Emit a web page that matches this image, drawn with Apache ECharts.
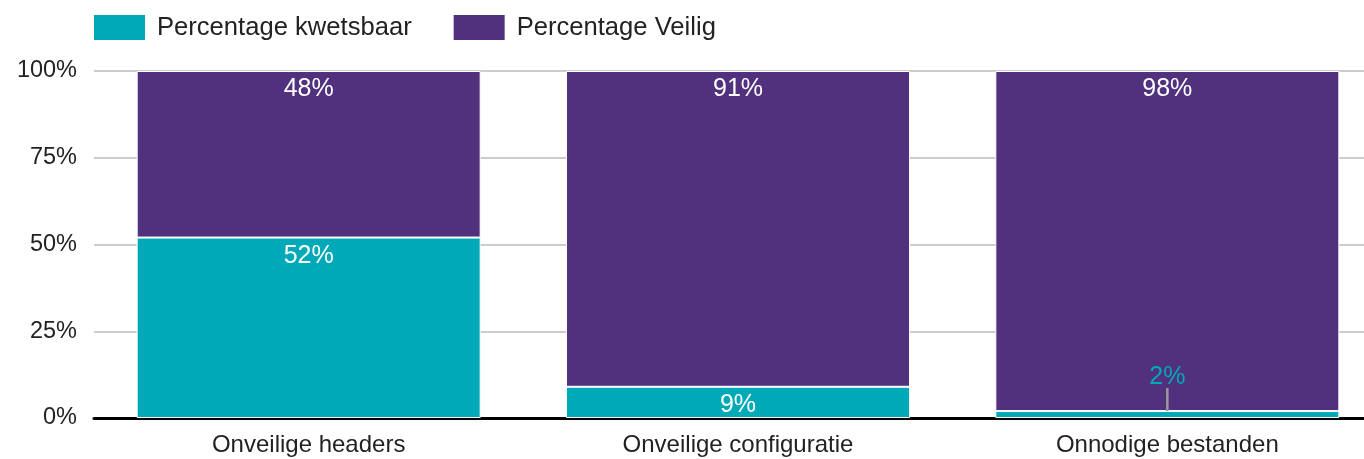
<!DOCTYPE html>
<html><head><meta charset="utf-8">
<script src="https://cdn.jsdelivr.net/npm/echarts@6/dist/echarts.min.js"></script>
<style>html,body{margin:0;padding:0;background:#fff;overflow:hidden}#c{width:1382px;height:459px}</style>
</head><body><div id="c"></div>
<script>
const categories = ['Onveilige headers', 'Onveilige configuratie', 'Onnodige bestanden'];
const kwetsbaar = [52, 9, 2];
const veilig = [48, 91, 98];
const yTicks = [0, 25, 50, 75, 100];

const TEAL = '#00A9B7', PURPLE = '#51307E';
const FONT = '"Liberation Sans", Arial, sans-serif';
const chart = echarts.init(document.getElementById('c'), null, {renderer: 'canvas'});

const SMALL = 5;
const kwData = kwetsbaar.map((v) => {
  if (v < SMALL) {
    return {value: v, label: {position: 'top', distance: 2, color: TEAL}};
  }
  return v;
});
const leaderData = kwetsbaar.map((v, i) => v < SMALL ? [i, v] : null).filter(Boolean);

chart.setOption({
  animation: false,
  textStyle: {fontFamily: FONT},
  legend: {
    left: 87, top: 8, itemWidth: 53, itemHeight: 27, itemGap: 40,
    icon: 'rect',
    textStyle: {fontSize: 25.6, color: '#222', fontFamily: FONT, padding: [0, 0, 0, 6]},
    data: ['Percentage kwetsbaar', 'Percentage Veilig']
  },
  grid: {left: 94, top: 71, right: 0, height: 347, containLabel: false},
  xAxis: {
    type: 'category', data: categories,
    axisLine: {show: true, lineStyle: {color: '#000', width: 3}},
    axisTick: {show: false},
    axisLabel: {fontSize: 24, color: '#222', margin: 15, fontFamily: FONT}
  },
  yAxis: {
    type: 'value', min: 0, max: 100, interval: 25,
    axisLine: {show: false}, axisTick: {show: false},
    splitLine: {lineStyle: {color: '#cccccc', width: 2}},
    axisLabel: {fontSize: 23.5, color: '#222', margin: 17, fontFamily: FONT,
      formatter: v => yTicks.includes(v) ? v + '%' : ''}
  },
  series: [
    {
      name: 'Percentage kwetsbaar', type: 'bar', stack: 's', data: kwData,
      barWidth: 344,
      itemStyle: {color: TEAL, borderColor: '#fff', borderWidth: 1},
      labelLayout: (p) => kwetsbaar[p.dataIndex] < SMALL ? {dy: -19} : {},
      label: {show: true, position: 'insideTop', distance: 6, color: '#fff', fontSize: 25,
        fontFamily: FONT, formatter: '{c}%'}
    },
    {
      name: 'Percentage Veilig', type: 'bar', stack: 's', data: veilig,
      barWidth: 344,
      itemStyle: {color: PURPLE, borderColor: '#fff', borderWidth: 1},
      label: {show: true, position: 'insideTop', distance: 6, color: '#fff', fontSize: 25,
        fontFamily: FONT, formatter: '{c}%'}
    },
    {
      name: 'leader', type: 'custom', data: leaderData, z: 5, silent: true,
      renderItem: (params, api) => {
        const pt = api.coord([api.value(0), api.value(1)]);
        return {
          type: 'line',
          shape: {x1: pt[0], y1: pt[1], x2: pt[0], y2: pt[1] - 23},
          style: {stroke: '#999', lineWidth: 2.5}
        };
      }
    }
  ]
});
</script></body></html>
